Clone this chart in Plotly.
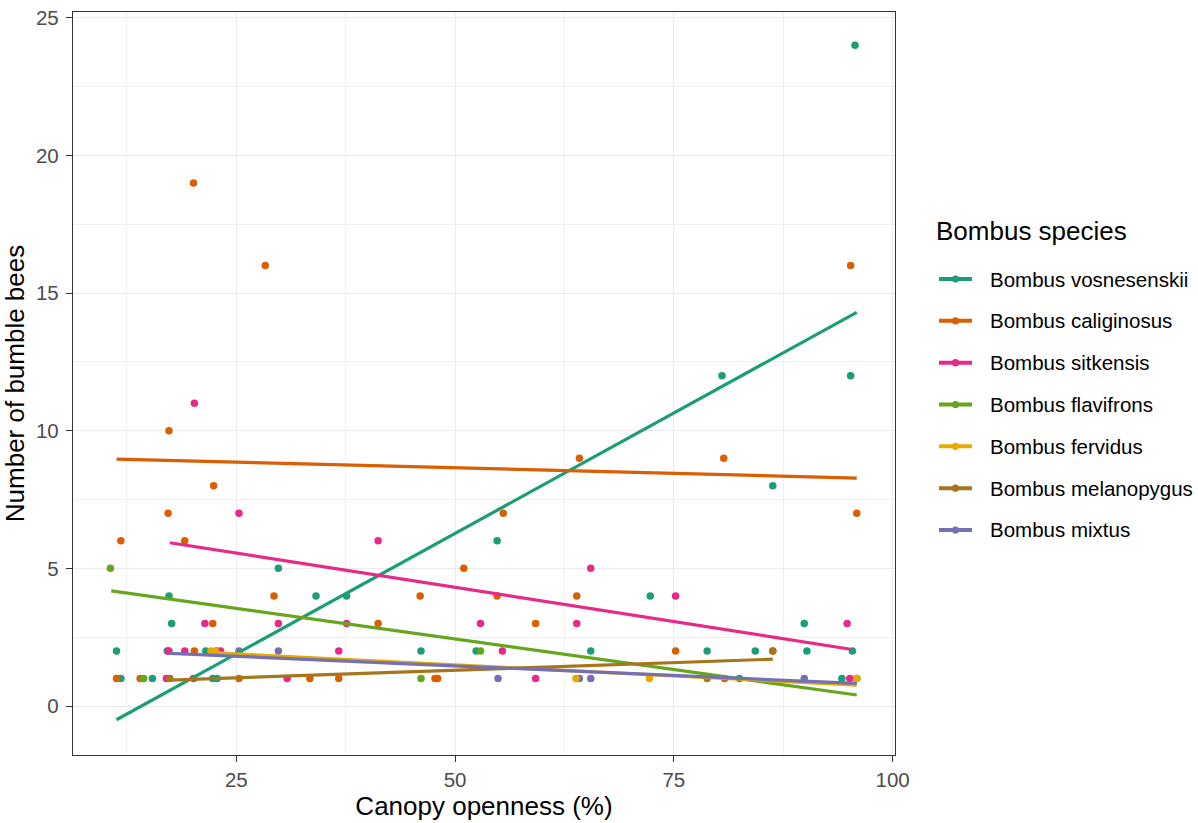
import plotly.graph_objects as go

# ---------------- data ----------------
species = ["Bombus vosnesenskii", "Bombus caliginosus", "Bombus sitkensis",
           "Bombus flavifrons", "Bombus fervidus", "Bombus melanopygus", "Bombus mixtus"]
colors = ["#1B9E77", "#D95F02", "#E7298A", "#66A61E", "#E6AB02", "#A6761D", "#7570B3"]
legend_title = "Bombus species"

vosnesenskii_x = [95.7, 95.2, 80.5, 86.3, 54.8, 29.8, 72.3, 17.3, 34.1, 37.6, 17.6, 89.9,
                  11.3, 17.1, 21.5, 46.1, 52.4, 65.5, 78.8, 84.3, 90.2, 95.4,
                  11.8, 15.4, 22.3, 22.8, 82.5, 94.2]
vosnesenskii_y = [24, 12, 12, 8, 6, 5, 4, 4, 4, 4, 3, 3,
                  2, 2, 2, 2, 2, 2, 2, 2, 2, 2,
                  1, 1, 1, 1, 1, 1]

caliginosus_x = [20.1, 28.3, 95.2, 17.3, 64.2, 80.7, 22.4, 17.2, 55.5, 95.9, 11.8, 19.1,
                 51.0, 29.3, 46.0, 54.8, 63.9, 22.3, 41.2, 59.2, 20.2, 22.8, 75.2, 86.3,
                 11.3, 14.0, 25.3, 33.4, 36.7, 47.7, 48.0, 80.8]
caliginosus_y = [19, 16, 16, 10, 9, 9, 8, 7, 7, 7, 6, 6,
                 5, 4, 4, 4, 4, 3, 3, 3, 2, 2, 2, 2,
                 1, 1, 1, 1, 1, 1, 1, 1]

sitkensis_x = [20.2, 25.3, 41.2, 65.5, 75.2, 21.4, 29.8, 37.6, 52.9, 63.9, 94.8,
               17.2, 19.1, 23.2, 36.7, 55.4, 17.0, 20.1, 30.8, 59.2, 95.1]
sitkensis_y = [11, 7, 6, 5, 4, 3, 3, 3, 3, 3, 3,
               2, 2, 2, 2, 2, 1, 1, 1, 1, 1]

flavifrons_x = [10.6, 52.9, 14.4, 46.1, 95.9]
flavifrons_y = [5, 2, 1, 1, 1]

fervidus_x = [22.1, 22.6, 63.8, 72.2, 95.9]
fervidus_y = [2, 2, 1, 1, 1]

melanopygus_x = [17.4, 78.8, 86.3]
melanopygus_y = [1, 1, 2]

mixtus_x = [17.3, 25.3, 29.8, 54.9, 64.2, 65.5, 89.9, 95.9]
mixtus_y = [2, 2, 2, 1, 1, 1, 1, 1]

# fitted trend lines (end points)
trend_x_start = [11.3, 11.3, 17.4, 10.7, 22.1, 17.4, 17.4]
trend_x_end = [95.9, 95.9, 95.2, 95.9, 95.9, 86.3, 95.9]
trend_y_start = [-0.5, 8.97, 5.93, 4.18, 1.94, 0.94, 1.91]
trend_y_end = [14.3, 8.28, 2.06, 0.40, 0.76, 1.70, 0.82]

x_ticks = [25, 50, 75, 100]
y_ticks = [0, 5, 10, 15, 20, 25]

points = [
    (vosnesenskii_x, vosnesenskii_y),
    (caliginosus_x, caliginosus_y),
    (sitkensis_x, sitkensis_y),
    (flavifrons_x, flavifrons_y),
    (fervidus_x, fervidus_y),
    (melanopygus_x, melanopygus_y),
    (mixtus_x, mixtus_y),
]

FONT = "Liberation Sans, Arial, sans-serif"
W, H = 1198, 823
ML, MR, MT, MB = 73, 303, 12, 68
PW = W - ML - MR
PH = H - MT - MB


def px_to_paper_x(px):
    return (px - ML) / PW


def px_to_paper_y(py):
    return (H - MB - py) / PH


fig = go.Figure()

# point layer (order chosen so overlaps resemble the reference)
draw_order = [6, 0, 1, 2, 3, 5, 4]
for i in draw_order:
    px, py = points[i]
    fig.add_trace(go.Scatter(
        x=px, y=py, mode="markers",
        marker=dict(color=colors[i], size=7.5, line=dict(width=0)),
        showlegend=False, hoverinfo="x+y", name=species[i]))

# trend lines
for i in range(len(species)):
    fig.add_trace(go.Scatter(
        x=[trend_x_start[i], trend_x_end[i]],
        y=[trend_y_start[i], trend_y_end[i]],
        mode="lines", line=dict(color=colors[i], width=3.2),
        showlegend=False, name=species[i]))

# legend drawn as paper-anchored shapes + text (ggplot-like key layout)
shapes = []
annotations = [dict(
    text=legend_title, xref="paper", yref="paper",
    x=px_to_paper_x(933.5), y=px_to_paper_y(231), xanchor="left", yanchor="middle",
    showarrow=False, font=dict(family=FONT, size=26, color="black"))]
key_x0, key_x1, text_x = 939, 972, 988
for i, name in enumerate(species):
    cy = 279 + 41.83 * i
    shapes.append(dict(type="line", xref="paper", yref="paper",
                       x0=px_to_paper_x(key_x0), x1=px_to_paper_x(key_x1),
                       y0=px_to_paper_y(cy), y1=px_to_paper_y(cy),
                       line=dict(color=colors[i], width=4)))
    r = 3.6
    cx = (key_x0 + key_x1) / 2
    shapes.append(dict(type="circle", xref="paper", yref="paper",
                       x0=px_to_paper_x(cx - r), x1=px_to_paper_x(cx + r),
                       y0=px_to_paper_y(cy + r), y1=px_to_paper_y(cy - r),
                       fillcolor=colors[i], line=dict(width=0)))
    annotations.append(dict(
        text=name, xref="paper", yref="paper",
        x=px_to_paper_x(text_x), y=px_to_paper_y(cy), xanchor="left", yanchor="middle",
        showarrow=False, font=dict(family=FONT, size=20.5, color="black")))

axis_common = dict(
    showgrid=True, gridcolor="#EBEBEB", gridwidth=1.4,
    zeroline=False,
    showline=True, linecolor="#333333", linewidth=1.3, mirror=True,
    ticks="outside", ticklen=6, tickwidth=1.3, tickcolor="#333333",
    tickfont=dict(family=FONT, size=20.5, color="#4D4D4D"),
    ticklabeloverflow="allow",
)

fig.update_layout(
    width=W, height=H,
    paper_bgcolor="white", plot_bgcolor="white",
    margin=dict(l=ML, r=MR, t=MT, b=MB),
    font=dict(family=FONT, color="black"),
    showlegend=False,
    shapes=shapes,
    annotations=annotations,
    xaxis=dict(
        range=[6.33, 100.27], tickvals=x_ticks,
        minor=dict(showgrid=True, gridcolor="#F0F0F0", gridwidth=0.8, dtick=12.5, tick0=0, ticks=""),
        title=dict(text="Canopy openness (%)", font=dict(family=FONT, size=26, color="black"), standoff=3),
        automargin=False, ticklabelstandoff=0,
        **axis_common),
    yaxis=dict(
        range=[-1.78, 25.21], tickvals=y_ticks,
        minor=dict(showgrid=True, gridcolor="#F0F0F0", gridwidth=0.8, dtick=2.5, tick0=0, ticks=""),
        title=dict(text="Number of bumble bees", font=dict(family=FONT, size=26, color="black"), standoff=10),
        automargin=False, ticklabelstandoff=3,
        **axis_common),
)

# remove the default 8px page margin so the 1198x823 figure fills the window exactly
fig.write_html("out.html", config={"displayModeBar": False},
               post_script="document.body.style.margin='0';document.body.style.overflow='hidden';")
